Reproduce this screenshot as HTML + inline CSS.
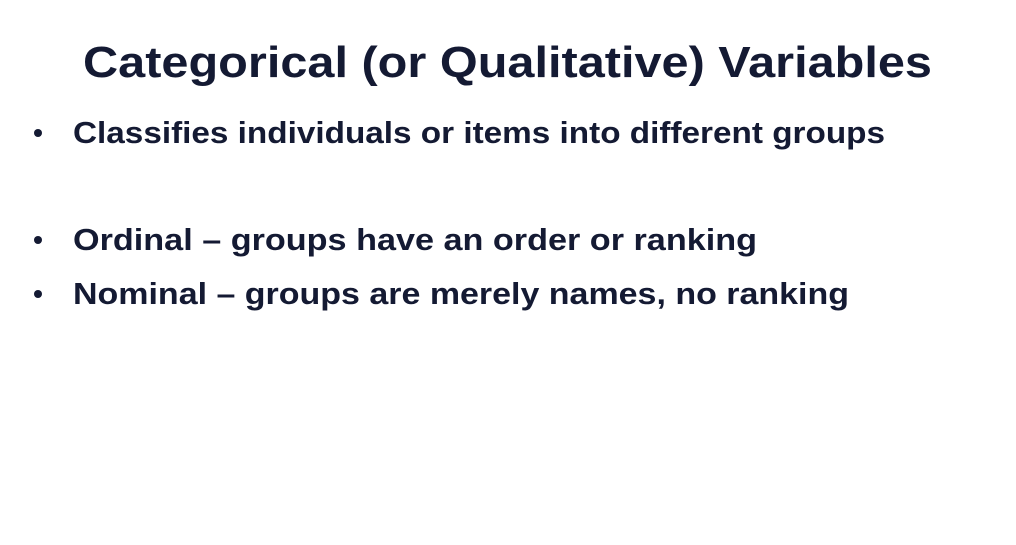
<!DOCTYPE html>
<html>
<head>
<meta charset="utf-8">
<style>
  html,body{margin:0;padding:0;background:#ffffff;}
  svg{display:block;}
  text{font-family:"Liberation Sans",sans-serif;font-weight:bold;fill:#141a33;}
</style>
</head>
<body>
<svg width="1016" height="545" viewBox="0 0 1016 545">
  <rect x="0" y="0" width="1016" height="545" fill="#ffffff"/>
  <text x="83" y="77" font-size="44" textLength="849" lengthAdjust="spacingAndGlyphs">Categorical (or Qualitative) Variables</text>

  <circle cx="38" cy="133" r="4" fill="#141a33"/>
  <text x="73" y="143" font-size="31" textLength="812" lengthAdjust="spacingAndGlyphs">Classifies individuals or items into different groups</text>

  <circle cx="38" cy="240" r="4" fill="#141a33"/>
  <text x="73" y="250" font-size="31" textLength="684" lengthAdjust="spacingAndGlyphs">Ordinal – groups have an order or ranking</text>

  <circle cx="38" cy="294" r="4" fill="#141a33"/>
  <text x="73" y="304" font-size="31" textLength="776" lengthAdjust="spacingAndGlyphs">Nominal – groups are merely names, no ranking</text>
</svg>
</body>
</html>
